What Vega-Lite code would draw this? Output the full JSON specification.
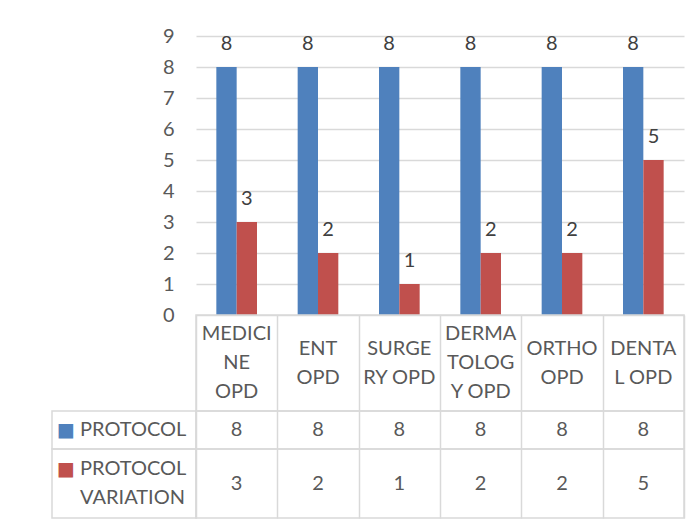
{
  "$schema": "https://vega.github.io/schema/vega-lite/v6.json",
  "padding": {"left": 51, "top": 26, "right": 5, "bottom": 5},
  "datasets": {
    "d": [
      {"cat": "MEDICINE OPD", "head": ["MEDICI", "NE", "OPD"], "series": "PROTOCOL", "value": 8},
      {"cat": "MEDICINE OPD", "head": ["MEDICI", "NE", "OPD"], "series": "PROTOCOL VARIATION", "value": 3},
      {"cat": "ENT OPD", "head": ["ENT", "OPD"], "series": "PROTOCOL", "value": 8},
      {"cat": "ENT OPD", "head": ["ENT", "OPD"], "series": "PROTOCOL VARIATION", "value": 2},
      {"cat": "SURGERY OPD", "head": ["SURGE", "RY OPD"], "series": "PROTOCOL", "value": 8},
      {"cat": "SURGERY OPD", "head": ["SURGE", "RY OPD"], "series": "PROTOCOL VARIATION", "value": 1},
      {"cat": "DERMATOLOGY OPD", "head": ["DERMA", "TOLOG", "Y OPD"], "series": "PROTOCOL", "value": 8},
      {"cat": "DERMATOLOGY OPD", "head": ["DERMA", "TOLOG", "Y OPD"], "series": "PROTOCOL VARIATION", "value": 2},
      {"cat": "ORTHO OPD", "head": ["ORTHO", "OPD"], "series": "PROTOCOL", "value": 8},
      {"cat": "ORTHO OPD", "head": ["ORTHO", "OPD"], "series": "PROTOCOL VARIATION", "value": 2},
      {"cat": "DENTAL OPD", "head": ["DENTA", "L OPD"], "series": "PROTOCOL", "value": 8},
      {"cat": "DENTAL OPD", "head": ["DENTA", "L OPD"], "series": "PROTOCOL VARIATION", "value": 5}
    ]
  },
  "data": {"name": "d"},
  "config": {
    "font": "Lato",
    "view": {"stroke": null},
    "text": {"fontSize": 20, "color": "#595959"},
    "axis": {"labelFont": "Lato", "labelFontSize": 20, "labelColor": "#595959"}
  },
  "columns": 2,
  "spacing": 0,
  "bounds": "flush",
  "align": "each",
  "concat": [
    {
      "width": 144, "height": 279,
      "data": {"values": [{}]},
      "mark": {"type": "text"},
      "encoding": {"text": {"value": ""}}
    },
    {
      "width": 488, "height": 279,
      "encoding": {
        "x": {"field": "cat", "type": "nominal", "sort": null,
              "scale": {"paddingInner": 0, "paddingOuter": 0},
              "axis": {"title": null, "labels": false, "ticks": false, "domain": false, "grid": false}},
        "xOffset": {"field": "series", "type": "nominal", "sort": null,
                    "scale": {"paddingInner": 0, "paddingOuter": 1.107}},
        "y": {"field": "value", "type": "quantitative",
              "scale": {"domain": [0, 9], "nice": false},
              "axis": {"title": null, "values": [0,1,2,3,4,5,6,7,8,9], "grid": true,
                       "gridColor": "#d9d9d9", "gridWidth": 1.5, "ticks": false,
                       "domain": false, "labelPadding": 22}},
        "color": {"field": "series", "type": "nominal",
                  "scale": {"domain": ["PROTOCOL", "PROTOCOL VARIATION"], "range": ["#4f81bd", "#c0504d"]},
                  "legend": null}
      },
      "layer": [
        {"mark": {"type": "bar"}},
        {"mark": {"type": "text", "baseline": "bottom", "dy": -13, "fontSize": 20, "color": "#404040"},
         "encoding": {"text": {"field": "value", "type": "quantitative"}, "color": {"value": "#404040"}}}
      ]
    },
    {
      "width": 144, "height": 96,
      "data": {"values": [{}]},
      "mark": {"type": "text"},
      "encoding": {"text": {"value": ""}}
    },
    {
      "width": 488, "height": 96,
      "view": {"stroke": "#d9d9d9", "strokeWidth": 1.5},
      "transform": [{"filter": "datum.series === 'PROTOCOL'"}],
      "mark": {"type": "text", "lineHeight": 29, "baseline": "middle",
               "dy": {"expr": "-(length(datum.head) - 1) * 14.5"}},
      "encoding": {
        "x": {"field": "cat", "type": "nominal", "sort": null,
              "scale": {"type": "band", "paddingInner": 0, "paddingOuter": 0},
              "axis": {"title": null, "labels": false, "ticks": false, "domain": false, "grid": true,
                       "tickBand": "extent", "gridColor": "#d9d9d9", "gridWidth": 1.5}},
        "text": {"field": "head", "type": "nominal"}
      }
    },
    {
      "width": 144, "height": 38,
      "view": {"stroke": "#d9d9d9", "strokeWidth": 1.5},
      "transform": [
        {"filter": "datum.series === 'PROTOCOL' && datum.cat === 'MEDICINE OPD'"},
        {"calculate": "split(datum.series, ' ')", "as": "lines"}
      ],
      "layer": [
        {"mark": {"type": "text", "text": "■", "font": "DejaVu Sans", "fontSize": 19, "dx": -58, "baseline": "middle"},
         "encoding": {"color": {"field": "series", "type": "nominal",
                  "scale": {"domain": ["PROTOCOL", "PROTOCOL VARIATION"], "range": ["#4f81bd", "#c0504d"]},
                  "legend": null}}},
        {"mark": {"type": "text", "align": "left", "dx": -44, "baseline": "middle", "lineHeight": 29},
         "encoding": {"text": {"field": "lines", "type": "nominal"}}}
      ]
    },
    {
      "width": 488, "height": 38,
      "view": {"stroke": "#d9d9d9", "strokeWidth": 1.5},
      "transform": [{"filter": "datum.series === 'PROTOCOL'"}],
      "mark": {"type": "text", "baseline": "middle"},
      "encoding": {
        "x": {"field": "cat", "type": "nominal", "sort": null,
              "scale": {"type": "band", "paddingInner": 0, "paddingOuter": 0},
              "axis": {"title": null, "labels": false, "ticks": false, "domain": false, "grid": true,
                       "tickBand": "extent", "gridColor": "#d9d9d9", "gridWidth": 1.5}},
        "text": {"field": "value", "type": "quantitative"}
      }
    },
    {
      "width": 144, "height": 69,
      "view": {"stroke": "#d9d9d9", "strokeWidth": 1.5},
      "transform": [
        {"filter": "datum.series === 'PROTOCOL VARIATION' && datum.cat === 'MEDICINE OPD'"},
        {"calculate": "split(datum.series, ' ')", "as": "lines"}
      ],
      "layer": [
        {"mark": {"type": "text", "text": "■", "font": "DejaVu Sans", "fontSize": 19, "dx": -58, "dy": -15, "baseline": "middle"},
         "encoding": {"color": {"field": "series", "type": "nominal",
                  "scale": {"domain": ["PROTOCOL", "PROTOCOL VARIATION"], "range": ["#4f81bd", "#c0504d"]},
                  "legend": null}}},
        {"mark": {"type": "text", "align": "left", "dx": -44, "baseline": "middle", "lineHeight": 29,
                  "dy": -14.5},
         "encoding": {"text": {"field": "lines", "type": "nominal"}}}
      ]
    },
    {
      "width": 488, "height": 69,
      "view": {"stroke": "#d9d9d9", "strokeWidth": 1.5},
      "transform": [{"filter": "datum.series === 'PROTOCOL VARIATION'"}],
      "mark": {"type": "text", "baseline": "middle"},
      "encoding": {
        "x": {"field": "cat", "type": "nominal", "sort": null,
              "scale": {"type": "band", "paddingInner": 0, "paddingOuter": 0},
              "axis": {"title": null, "labels": false, "ticks": false, "domain": false, "grid": true,
                       "tickBand": "extent", "gridColor": "#d9d9d9", "gridWidth": 1.5}},
        "text": {"field": "value", "type": "quantitative"}
      }
    }
  ]
}
